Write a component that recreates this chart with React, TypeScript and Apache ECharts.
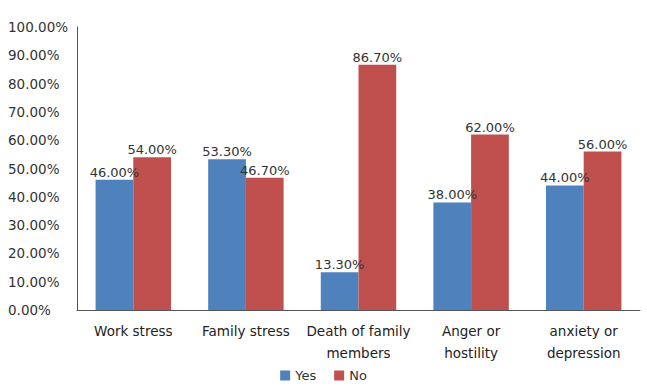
import React, { useEffect, useRef } from "react";
import * as echarts from "echarts";

const categories = ["Work stress", "Family stress", "Death of family\nmembers", "Anger or\nhostility", "anxiety or\ndepression"];
const yesValues = [46.0, 53.3, 13.3, 38.0, 44.0];
const noValues = [54.0, 46.7, 86.7, 62.0, 56.0];
const seriesNames = ["Yes", "No"];

export default function App() {
  const ref = useRef<HTMLDivElement>(null);
  useEffect(() => {
    const chart = echarts.init(ref.current!, null, { renderer: "svg" });
    const font = "'DejaVu Sans', sans-serif";
    const labelCfg = {
      show: true,
      position: "top" as const,
      distance: 1,
      color: "#333",
      fontSize: 13,
      fontFamily: font,
      formatter: (p: any) => p.value.toFixed(2) + "%",
    };
    chart.setOption({
      animation: false,
      grid: { left: 77, right: 7, top: 27, bottom: 81, containLabel: false },
      legend: {
        bottom: 4,
        left: "center",
        itemWidth: 10,
        itemHeight: 10,
        itemGap: 18,
        icon: "rect",
        textStyle: { fontSize: 13, color: "#333", fontFamily: font },
        data: seriesNames,
      },
      xAxis: {
        type: "category",
        data: categories,
        axisLine: { lineStyle: { color: "#555", width: 1 } },
        axisTick: { show: false },
        axisLabel: { color: "#222", fontSize: 13.5, fontFamily: font, margin: 10, lineHeight: 22, interval: 0 },
      },
      yAxis: {
        type: "value",
        min: 0,
        max: 100,
        interval: 10,
        splitLine: { show: false },
        axisLine: { show: true, lineStyle: { color: "#555", width: 1 } },
        axisTick: { show: false },
        axisLabel: {
          align: "left",
          margin: 69,
          color: "#333",
          fontSize: 13.5,
          fontFamily: font,
          formatter: (v: number) => v.toFixed(2) + "%",
        },
      },
      series: [
        {
          name: seriesNames[0],
          type: "bar",
          data: yesValues,
          barGap: "0%",
          barCategoryGap: "33%",
          itemStyle: { color: "#4F81BD" },
          label: labelCfg,
        },
        {
          name: seriesNames[1],
          type: "bar",
          data: noValues,
          itemStyle: { color: "#C0504D" },
          label: labelCfg,
        },
      ],
    });
    return () => chart.dispose();
  }, []);
  return <div ref={ref} style={{ width: 647, height: 391, position: "absolute", left: 0, top: 0 }} />;
}
